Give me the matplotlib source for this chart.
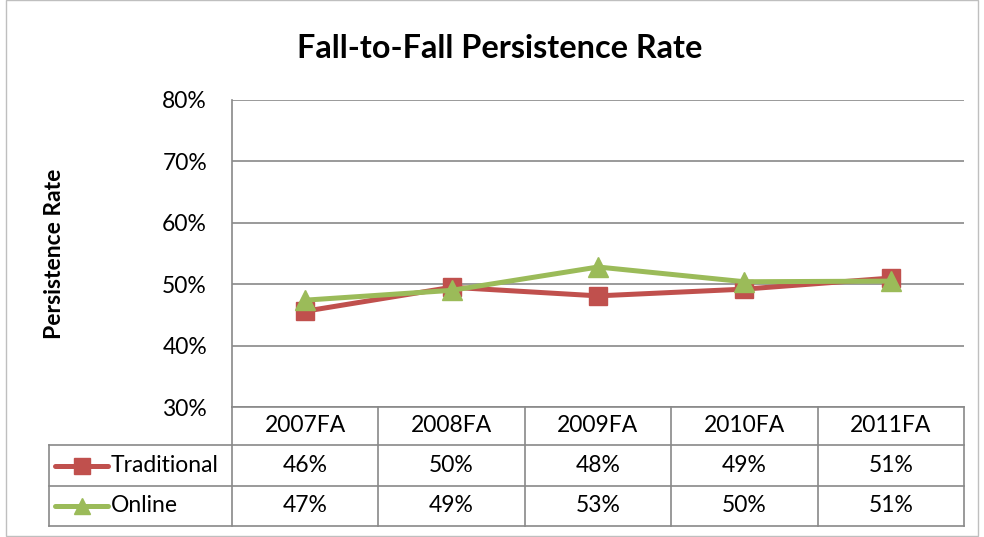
import matplotlib.pyplot as plt
from matplotlib.lines import Line2D
from matplotlib.patches import Rectangle

plt.rcParams['font.family'] = ['Lato', 'DejaVu Sans']

# Data
years = ['2007FA', '2008FA', '2009FA', '2010FA', '2011FA']
traditional = [45.6, 49.5, 48.1, 49.2, 51.0]
online = [47.4, 49.0, 52.8, 50.4, 50.5]
traditional_labels = ['46%', '50%', '48%', '49%', '51%']
online_labels = ['47%', '49%', '53%', '50%', '51%']
yticks = [30, 40, 50, 60, 70, 80]

red = '#C0504D'
green = '#9BBB59'
grid = '#898989'
fs = 16.5

W, H = 984, 537
fig = plt.figure(figsize=(W / 100, H / 100), dpi=100)


def fx(px):
    return px / W


def fy(py):
    return 1 - py / H


# chart area border
fig.add_artist(Rectangle((fx(6), fy(536)), fx(972), fy(0) - fy(536),
                         transform=fig.transFigure, fill=False, edgecolor='#BFBFBF', lw=1))

left, right, top, bottom = 232, 964, 100, 407
ax = fig.add_axes([fx(left), fy(bottom), fx(right - left), fy(top) - fy(bottom)])
x = range(len(years))
ax.plot(x, traditional, color=red, lw=3.6, marker='s', markersize=13, label='Traditional', zorder=3)
ax.plot(x, online, color=green, lw=3.6, marker='^', markersize=14, label='Online', zorder=4)
ax.set_xlim(-0.5, len(years) - 0.5)
ax.set_ylim(30, 80)
ax.set_yticks(yticks)
ax.set_yticklabels([f'{t}%' for t in yticks], fontsize=fs)
ax.tick_params(axis='y', length=0, pad=18)
ax.set_xticks([])
for t in yticks:
    ax.axhline(t, color=grid, lw=1.2, zorder=1)
for s in ['top', 'right', 'bottom']:
    ax.spines[s].set_visible(False)
ax.spines['left'].set_color(grid)
ax.spines['left'].set_linewidth(1.2)
ax.set_ylabel('Persistence Rate', fontsize=16.5, fontweight='bold')
ax.yaxis.set_label_coords((65 - left) / (right - left), 0.5)

fig.text(fx(500), fy(48), 'Fall-to-Fall Persistence Rate', ha='center', va='center',
         fontsize=23.3, fontweight='bold')

# data table
rows = [407, 445, 486, 526]
colw = (right - left) / len(years)
cols = [left + i * colw for i in range(len(years) + 1)]
tleft = 49


def hline(y, x0, x1):
    fig.add_artist(Line2D([fx(x0), fx(x1)], [fy(y), fy(y)], color=grid, lw=1.2,
                          transform=fig.transFigure))


def vline(x0, y0, y1):
    fig.add_artist(Line2D([fx(x0), fx(x0)], [fy(y0), fy(y1)], color=grid, lw=1.2,
                          transform=fig.transFigure))


hline(rows[0], left, right)
for r in rows[1:]:
    hline(r, tleft, right)
for c in cols:
    vline(c, rows[0], rows[3])
vline(tleft, rows[1], rows[3])

for i, yr in enumerate(years):
    cx = (cols[i] + cols[i + 1]) / 2
    fig.text(fx(cx), fy((rows[0] + rows[1]) / 2), yr, ha='center', va='center', fontsize=fs)
    fig.text(fx(cx), fy((rows[1] + rows[2]) / 2), traditional_labels[i], ha='center', va='center', fontsize=fs)
    fig.text(fx(cx), fy((rows[2] + rows[3]) / 2), online_labels[i], ha='center', va='center', fontsize=fs)

for (r0, r1), name, col, mk, ms in [((rows[1], rows[2]), 'Traditional', red, 's', 11),
                                     ((rows[2], rows[3]), 'Online', green, '^', 12)]:
    cy = fy((r0 + r1) / 2)
    fig.add_artist(Line2D([fx(55), fx(108)], [cy, cy], color=col, lw=3.6,
                          solid_capstyle='round', transform=fig.transFigure))
    fig.add_artist(Line2D([fx(82)], [cy], color=col, marker=mk, markersize=ms,
                          transform=fig.transFigure))
    fig.text(fx(111), cy, name, ha='left', va='center', fontsize=fs)

fig.savefig('out.png', dpi=100)
